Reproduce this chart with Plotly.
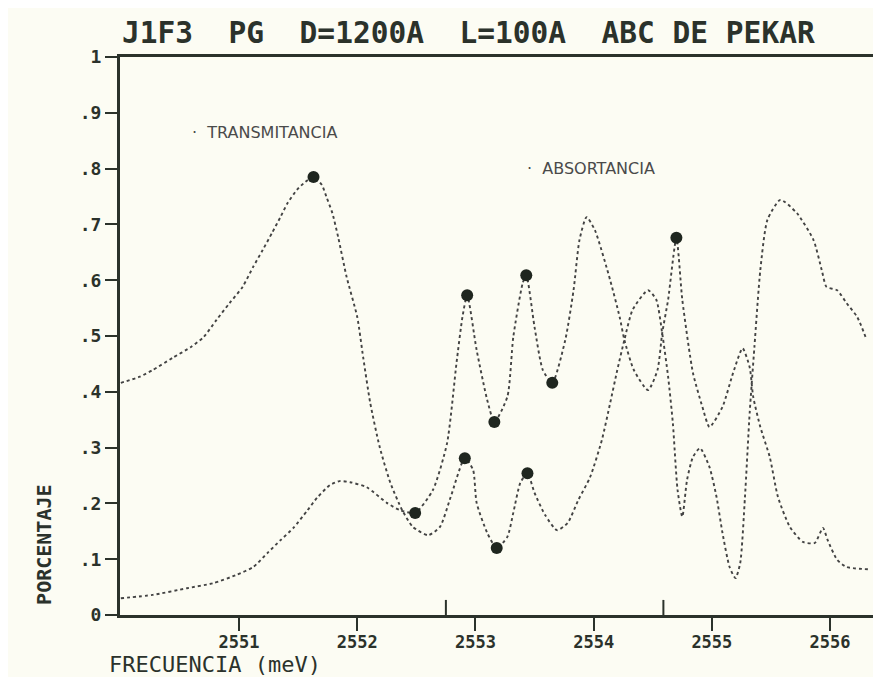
import plotly.graph_objects as go

# ---- data ----
# Curve labelled TRANSMITANCIA (starts ~0.41, peak ~0.78)
trans_x = [2550.00, 2550.16, 2550.27, 2550.44, 2550.59, 2550.70, 2550.81, 2550.92, 2551.03,
           2551.12, 2551.20, 2551.28, 2551.35, 2551.41, 2551.49, 2551.56, 2551.63, 2551.70,
           2551.74, 2551.79, 2551.84, 2551.91, 2552.00, 2552.05, 2552.11, 2552.19,
           2552.28, 2552.38, 2552.47, 2552.60, 2552.70, 2552.79, 2552.91, 2552.98, 2553.01,
           2553.10, 2553.18, 2553.27, 2553.32, 2553.38, 2553.44, 2553.50, 2553.59, 2553.69,
           2553.78, 2553.87, 2553.97, 2554.07, 2554.14, 2554.20, 2554.26, 2554.33, 2554.46,
           2554.53, 2554.58, 2554.63, 2554.67, 2554.71, 2554.75, 2554.79, 2554.84, 2554.90,
           2554.98, 2555.04, 2555.09, 2555.15, 2555.20, 2555.24, 2555.28, 2555.32, 2555.36,
           2555.41, 2555.47, 2555.58, 2555.72, 2555.86, 2555.93, 2555.97, 2556.06, 2556.14,
           2556.23, 2556.31]
trans_y = [0.416, 0.427, 0.439, 0.461, 0.480, 0.498, 0.529, 0.559, 0.588,
           0.624, 0.654, 0.685, 0.713, 0.738, 0.762, 0.776, 0.785, 0.771,
           0.749, 0.720, 0.676, 0.606, 0.534, 0.462, 0.380, 0.301,
           0.237, 0.188, 0.158, 0.143, 0.158, 0.211, 0.281, 0.260, 0.201,
           0.147, 0.120, 0.140, 0.183, 0.237, 0.254, 0.219, 0.179, 0.152,
           0.165, 0.206, 0.247, 0.314, 0.380, 0.439, 0.493, 0.547, 0.582,
           0.565, 0.505, 0.427, 0.344, 0.224, 0.176, 0.242, 0.283, 0.299,
           0.265, 0.211, 0.147, 0.086, 0.066, 0.093, 0.211, 0.362, 0.480,
           0.618, 0.708, 0.744, 0.720, 0.672, 0.618, 0.588, 0.582, 0.559,
           0.534, 0.493]

# Curve labelled ABSORTANCIA (starts ~0.03)
abs_x = [2550.00, 2550.27, 2550.56, 2550.78, 2550.98, 2551.12, 2551.24, 2551.35, 2551.46,
         2551.58, 2551.66, 2551.77, 2551.85, 2551.94, 2552.08, 2552.25, 2552.36, 2552.49,
         2552.64, 2552.76, 2552.84, 2552.89,
         2552.93, 2553.01, 2553.10, 2553.16, 2553.27, 2553.32, 2553.40, 2553.43, 2553.50,
         2553.57, 2553.65, 2553.76, 2553.83, 2553.88, 2553.94, 2554.01, 2554.14, 2554.22,
         2554.26, 2554.34, 2554.46, 2554.54, 2554.58, 2554.63, 2554.70, 2554.75, 2554.84,
         2554.92, 2554.98, 2555.09, 2555.18, 2555.26, 2555.32, 2555.35, 2555.41, 2555.49,
         2555.56, 2555.66, 2555.77, 2555.87, 2555.94, 2555.98, 2556.06, 2556.14, 2556.32]
abs_y = [0.030, 0.036, 0.048, 0.057, 0.072, 0.086, 0.111, 0.134, 0.156,
         0.188, 0.210, 0.233, 0.240, 0.238, 0.229, 0.201, 0.188, 0.183,
         0.224, 0.308, 0.452, 0.534,
         0.573, 0.475, 0.385, 0.346, 0.391, 0.498, 0.595, 0.609, 0.516,
         0.439, 0.416, 0.493, 0.582, 0.672, 0.713, 0.690, 0.600, 0.534,
         0.493, 0.439, 0.403, 0.439, 0.505, 0.565, 0.676, 0.565, 0.434,
         0.373, 0.337, 0.373, 0.434, 0.478, 0.444, 0.391, 0.337, 0.283,
         0.211, 0.158, 0.131, 0.129, 0.156, 0.134, 0.099, 0.086, 0.082]

# Highlighted points (filled dots)
dot_x = [2551.63, 2552.49, 2552.91, 2552.93, 2553.18, 2553.16, 2553.43, 2553.44, 2553.65, 2554.70]
dot_y = [0.785, 0.183, 0.281, 0.573, 0.120, 0.346, 0.609, 0.254, 0.416, 0.676]

# Upward tick marks on the frequency axis
mark_ticks = [2552.75, 2554.59]

x_ticks = [2551, 2552, 2553, 2554, 2555, 2556]
x_ticktext = ["2551", "2552", "2553", "2554", "2555", "2556"]
y_ticks = [0, 0.1, 0.2, 0.3, 0.4, 0.5, 0.6, 0.7, 0.8, 0.9, 1.0]
y_ticktext = ["0", ".1", ".2", ".3", ".4", ".5", ".6", ".7", ".8", ".9", "1"]

title_text = "J1F3  PG  D=1200A  L=100A  ABC DE PEKAR"

# ---- styles ----
INK = "#2b322b"
CURVE = "#434343"
PAPER = "#fcfcf3"
MONO = "DejaVu Sans Mono"

fig = go.Figure()
fig.add_trace(go.Scatter(x=trans_x, y=trans_y, mode="lines", name="TRANSMITANCIA",
                         line=dict(color=CURVE, width=1.9, dash="dot", shape="spline", smoothing=0.6)))
fig.add_trace(go.Scatter(x=abs_x, y=abs_y, mode="lines", name="ABSORTANCIA",
                         line=dict(color=CURVE, width=1.9, dash="dot", shape="spline", smoothing=0.6)))
fig.add_trace(go.Scatter(x=dot_x, y=dot_y, mode="markers", name="puntos",
                         marker=dict(color="#1f261f", size=12)))

for mt in mark_ticks:
    fig.add_shape(type="line", xref="x", yref="y", x0=mt, x1=mt, y0=0, y1=0.027,
                  line=dict(color=INK, width=2))

# the page body has an 8px margin, so the figure is 8px smaller than the window
fig.update_layout(
    width=873, height=669,
    margin=dict(l=112, r=0, t=49, b=62),
    paper_bgcolor=PAPER, plot_bgcolor=PAPER,
    showlegend=False,
    font=dict(family=MONO, color=INK),
)
fig.update_xaxes(range=[2549.993, 2556.431], tickvals=x_ticks, ticktext=x_ticktext,
                 showgrid=False, zeroline=False, showline=True, linecolor=INK, linewidth=3,
                 mirror=True, ticks="outside", ticklen=13, tickwidth=2, tickcolor=INK,
                 automargin=False, ticklabelstandoff=-3,
                 tickfont=dict(family=MONO, size=17, color=INK, weight="bold"))
fig.update_yaxes(range=[0, 1], tickvals=y_ticks, ticktext=y_ticktext,
                 showgrid=False, zeroline=False, showline=True, linecolor=INK, linewidth=3,
                 mirror=False, ticks="outside", ticklen=12, tickwidth=2, tickcolor=INK,
                 automargin=False,
                 tickfont=dict(family=MONO, size=18, color=INK, weight="bold"))

# title
fig.add_annotation(text=title_text, xref="paper", yref="paper", x=0.0, y=1.043,
                   xanchor="left", yanchor="middle", showarrow=False,
                   font=dict(family=MONO, size=29.5, color=INK, weight="bold"))
# axis titles
fig.add_annotation(text="FRECUENCIA (meV)", xref="paper", yref="paper", x=-0.017, y=-0.088,
                   xanchor="left", yanchor="middle", showarrow=False,
                   font=dict(family=MONO, size=22, color=INK))
fig.add_annotation(text="PORCENTAJE", xref="paper", yref="paper", x=-0.099, y=0.125,
                   xanchor="center", yanchor="middle", showarrow=False, textangle=-90,
                   font=dict(family=MONO, size=20, color=INK, weight="bold"))
# curve labels
fig.add_annotation(text="·  TRANSMITANCIA", xref="paper", yref="paper", x=0.092, y=0.864,
                   xanchor="left", yanchor="middle", showarrow=False,
                   font=dict(family="DejaVu Sans", size=16, color="#4a4a4a"))
fig.add_annotation(text="·  ABSORTANCIA", xref="paper", yref="paper", x=0.532, y=0.801,
                   xanchor="left", yanchor="middle", showarrow=False,
                   font=dict(family="DejaVu Sans", size=16, color="#4a4a4a"))

fig.write_html("out.html")
